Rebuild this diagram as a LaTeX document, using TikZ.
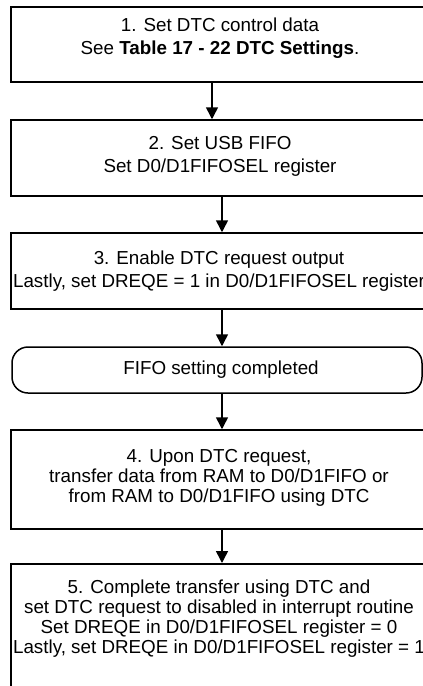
\documentclass[tikz,border=0pt]{standalone}
\usepackage{fontspec}
\setmainfont{Liberation Sans}
\usetikzlibrary{arrows.meta}
\begin{document}
\begin{tikzpicture}[x=1pt,y=-1pt,
		stepbox/.style={draw,line width=1.5pt,minimum width=422pt,inner sep=0pt},
		steptext/.style={align=center,inner sep=0pt,font=\fontsize{18.8}{23}\selectfont},
		tighttext/.style={align=center,inner sep=0pt,font=\fontsize{18.8}{20}\selectfont},
		flow/.style={line width=1.5pt,-{Triangle[length=12pt,width=12pt]}}]
			\useasboundingbox (0,0) rectangle (423,686);
			\clip (0,0) rectangle (423,686);
			\node[stepbox,minimum height=75pt] (s1) at (222,44.5) {};
			\node[steptext] (t1) at (220,38.5) {1. Set DTC control data\\See \textbf{Table 17 - 22 DTC Settings}.};
			\node[stepbox,minimum height=76pt] (s2) at (222,158) {};
			\node[steptext] (t2) at (220,156) {2. Set USB FIFO\\Set D0/D1FIFOSEL register};
			\node[stepbox,minimum height=76pt] (s3) at (222,271) {};
			\node[steptext] (t3) at (219,271) {3. Enable DTC request output\\Lastly, set DREQE = 1 in D0/D1FIFOSEL register};
			\node[stepbox,rounded corners=16pt,minimum width=410pt,minimum height=46pt] (fin) at (217,370) {};
			\node[steptext] (tfin) at (221,370) {FIFO setting completed};
			\node[stepbox,minimum height=99pt] (s4) at (222,479.5) {};
			\node[tighttext] (t4) at (219,478) {4. Upon DTC request,\\transfer data from RAM to D0/D1FIFO or\\from RAM to D0/D1FIFO using DTC};
			\node[stepbox,minimum height=160pt,anchor=north] (s5) at (222,563) {};
			\node[tighttext] (t5) at (219,619) {5. Complete transfer using DTC and\\set DTC request to disabled in interrupt routine\\Set DREQE in D0/D1FIFOSEL register = 0\\Lastly, set DREQE in D0/D1FIFOSEL register = 1};
			\draw[flow] ([xshift=-10pt]s1.south) -- ([xshift=-10pt]s2.north);
			\draw[flow] (s2.south) -- (s3.north);
			\draw[flow] (s3.south) -- (s3.south |- fin.north);
			\draw[flow] (s3.south |- fin.south) -- (s4.north);
			\draw[flow] (s4.south) -- (s5.north);
		\end{tikzpicture}
\end{document}
